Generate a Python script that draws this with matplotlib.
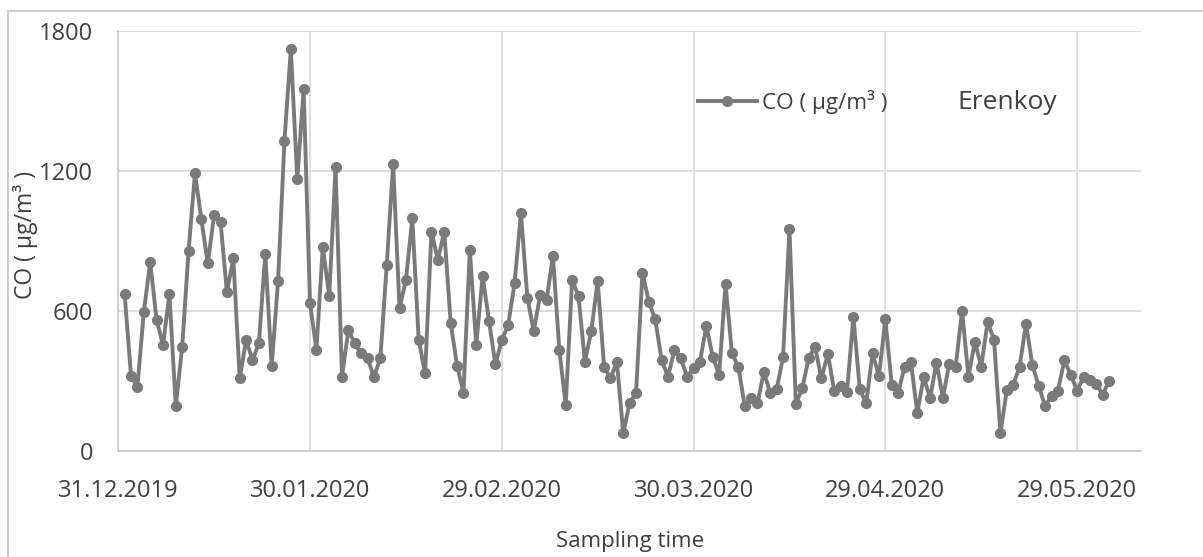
import numpy as np
import pandas as pd
import matplotlib
matplotlib.use("Agg")
import matplotlib.pyplot as plt
import matplotlib.dates as mdates
from matplotlib.lines import Line2D

plt.rcParams["font.family"] = ["Open Sans", "DejaVu Sans"]

# daily CO values, starting 01.01.2020
co_values = [
    671, 321, 276, 597, 809, 561, 454, 671, 193, 447,
    857, 1190, 993, 804, 1011, 983, 680, 826, 311, 476,
    390, 461, 843, 364, 729, 1330, 1722, 1164, 1550, 633,
    433, 876, 664, 1216, 318, 519, 461, 419, 397, 318,
    397, 797, 1229, 611, 733, 997, 476, 333, 940, 819,
    940, 550, 366, 250, 861, 454, 750, 557, 371, 476,
    540, 721, 1019, 657, 514, 669, 647, 836, 433, 197,
    733, 664, 383, 514, 729, 361, 311, 383, 76, 207,
    247, 764, 640, 564, 390, 318, 433, 397, 318, 354,
    383, 536, 404, 326, 716, 419, 361, 193, 226, 204,
    340, 247, 264, 404, 951, 200, 269, 397, 447, 311,
    416, 259, 279, 254, 576, 264, 204, 419, 321, 564,
    283, 247, 361, 383, 162, 318, 226, 379, 229, 373,
    361, 601, 318, 469, 361, 554, 476, 76, 261, 283,
    361, 545, 369, 277, 193, 236, 259, 388, 327, 259,
    317, 305, 289, 240, 302,
]
dates = pd.date_range("2020-01-01", periods=len(co_values), freq="D")

tick_dates = pd.to_datetime(["2019-12-31", "2020-01-30", "2020-02-29",
                             "2020-03-30", "2020-04-29", "2020-05-29"])
y_ticks = [0, 600, 1200, 1800]
x_start = pd.Timestamp("2019-12-31")
x_end = pd.Timestamp("2020-06-08")

line_col = "#7a7a7a"
grid_col = "#d9d9d9"
text_col = "#404040"

fig = plt.figure(figsize=(12.03, 5.57), dpi=100)
ax = fig.add_axes([0.0983, 0.1903, 0.8502, 0.754])

ax.plot(dates, co_values, color=line_col, lw=2.8, marker="o", ms=7,
        mec=line_col, mfc=line_col, label="CO ( µg/m³ )", zorder=3, clip_on=False)

ax.set_xlim(x_start, x_end)
ax.set_ylim(0, 1800)
ax.set_yticks(y_ticks)
ax.set_xticks(tick_dates)
ax.xaxis.set_major_formatter(mdates.DateFormatter("%d.%m.%Y"))

ax.grid(True, color=grid_col, lw=1.2)
ax.set_axisbelow(True)
for s in ["top", "right"]:
    ax.spines[s].set_visible(False)
for s in ["left", "bottom"]:
    ax.spines[s].set_color("#c8c8c8")
    ax.spines[s].set_linewidth(1.2)

ax.tick_params(axis="both", length=0, labelsize=17, labelcolor=text_col)
ax.tick_params(axis="y", pad=18)
ax.tick_params(axis="x", pad=20)

ax.set_ylabel("CO ( µg/m³ )", fontsize=16.5, color=text_col)
ax.yaxis.set_label_coords(-0.078, 0.514)
ax.set_xlabel("Sampling time", fontsize=16, color=text_col)
ax.xaxis.set_label_coords(0.5, -0.19)

ax.legend(loc="center left", bbox_to_anchor=(0.567, 0.831), frameon=False,
          fontsize=16.2, handlelength=2.6, handletextpad=0.25,
          borderpad=0, borderaxespad=0, labelcolor=text_col)
ax.text(0.820, 0.831, "Erenkoy", transform=ax.transAxes, fontsize=19,
        color=text_col, va="center", ha="left")

# light frame around the chart
fig.add_artist(Line2D([8 / 1203, 1], [1 - 11 / 557, 1 - 11 / 557],
                      transform=fig.transFigure, color="#d0d0d0", lw=1.5))
fig.add_artist(Line2D([8 / 1203, 8 / 1203], [0, 1 - 11 / 557],
                      transform=fig.transFigure, color="#d0d0d0", lw=1.5))

fig.savefig("out.png", dpi=100)
